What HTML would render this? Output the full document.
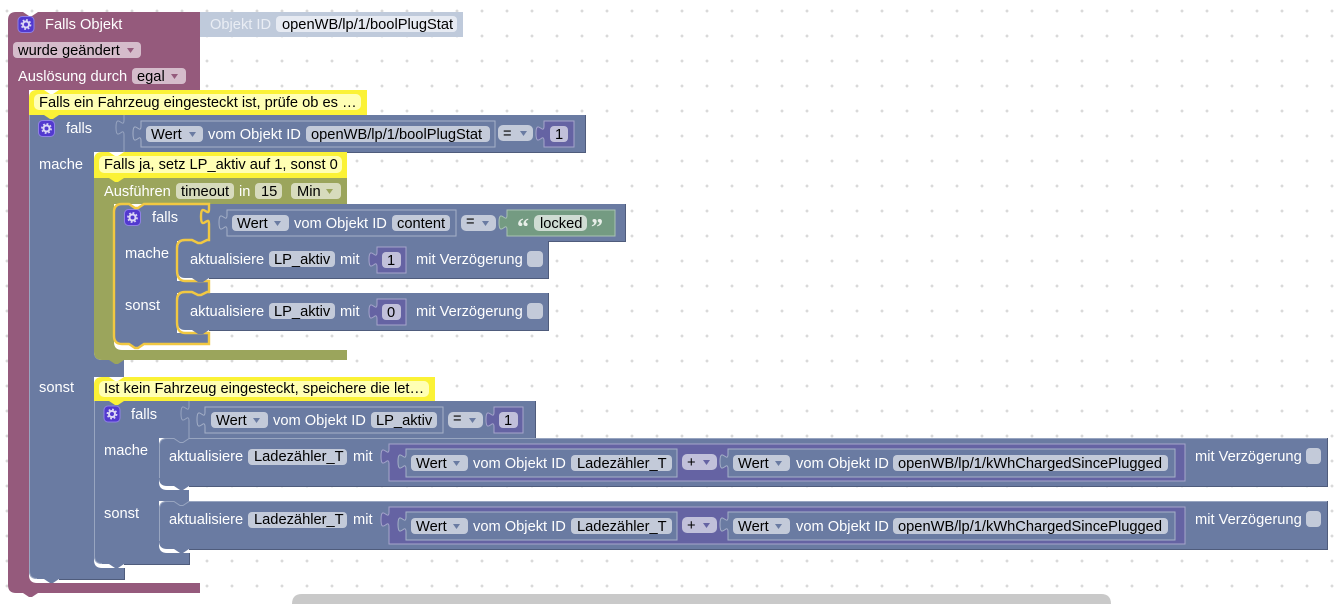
<!DOCTYPE html>
<html><head><meta charset="utf-8"><style>
html,body{margin:0;padding:0;background:#fff;width:1339px;height:604px;overflow:hidden}
svg{display:block}
text{font-family:"Liberation Sans",Arial,sans-serif;font-size:14.67px;white-space:pre}
.w{fill:#fff}.k{fill:#000}
.bl{fill:#6a7ba2}.pu{fill:#955a7c}.ol{fill:#9ba55c}.vi{fill:#6563a3}.gr{fill:#749b82}
.fb{fill:#c3cad9}.fv{fill:#c1c0da}
.e{fill:none;stroke:#98a5c0;stroke-width:1}
.d{fill:none;stroke:#4f5c7c;stroke-width:1}
.y{fill:none;stroke:#f1c842;stroke-width:2.4}
</style></head><body>
<svg width="1339" height="604" viewBox="0 0 1339 604" xmlns="http://www.w3.org/2000/svg">
<defs>
<pattern id="g" x="2" y="6" width="25" height="25" patternUnits="userSpaceOnUse">
<path d="M5 3.500v3M3.500 5h3" stroke="#ccc" stroke-width="1"/></pattern>
<g id="gear"><rect x="0" y="0" width="16" height="16" rx="4" fill="#5239cf" stroke="#8f80e6" stroke-width="1"/>
<circle cx="8" cy="8" r="3" fill="none" stroke="#dcd8f6" stroke-width="2"/><circle cx="8" cy="8" r="4.600" fill="none" stroke="#dcd8f6" stroke-width="1.600" stroke-dasharray="1.800 1.800"/></g>
<path id="ar" d="M0 0h7l-3.500 5z"/>
</defs>
<rect width="1339" height="604" fill="url(#g)"/>

<!-- Objekt ID block -->
<path d="M200 12H463V37H200V32c0-10-8 8-8-7.500s8 2.500 8-7.500z" fill="#bfcadb"/>
<text x="210" y="29" fill="#e9edf4">Objekt ID</text>
<rect x="276" y="16" width="181" height="16" rx="4" fill="#e6eaf2"/>
<text x="282" y="29" class="k">openWB/lp/1/boolPlugStat</text>

<!-- Purple hat -->
<path class="pu" d="M16 12H23l6 4h3l6-4H200V90H29V575q0 8 8 8H200V593H38l-6 4h-3l-6-4H16q-8 0-8-8V20q0-8 8-8z"/>
<use href="#gear" x="18" y="16.500"/>
<text x="45" y="29" class="w">Falls Objekt</text>
<rect x="13" y="42" width="128" height="16" rx="4" fill="#d5bccb"/>
<text x="18" y="55" class="k">wurde geändert</text>
<use href="#ar" x="127" y="48" fill="#955a7c"/>
<text x="18" y="81" class="w">Auslösung durch</text>
<rect x="132" y="68" width="54" height="16" rx="4" fill="#d5bccb"/>
<text x="137" y="81" class="k">egal</text>
<use href="#ar" x="171" y="74" fill="#955a7c"/>

<!-- Outer blue if -->
<path class="bl" d="M29 115H124V152H94V352q0 8 8 8H124V377H94V560q0 8 8 8H124V579H59l-6 4h-3l-6-4H37q-8 0-8-8z"/>
<path class="e" d="M29.500 115V571q0 7.500 7.500 7.500"/>
<path class="d" d="M59 579.500H124.500V568"/>
<rect x="124" y="115" width="461" height="37" class="bl"/>
<path class="d" d="M124 152.500H585.500V115"/>
<path class="e" d="M124 115V120c0 10-8-8-8 7.500s8-2.500 8 7.500V152"/>
<use href="#gear" x="38.500" y="120.500"/>
<text x="66" y="133" class="w">falls</text>
<text x="39" y="169" class="w">mache</text>
<text x="39" y="392" class="w">sonst</text>
<!-- Wert block 1 -->
<path d="M141 121H495V147H141V141c0-10-8 8-8-7.500s8 2.500 8-7.500z" class="bl" stroke="#a5b0c8"/>
<rect x="146" y="126" width="57" height="16" rx="4" class="fb"/>
<text x="151" y="139" class="k">Wert</text>
<use href="#ar" x="189" y="132" fill="#6a7ba2"/>
<text x="208" y="139" class="w">vom Objekt ID</text>
<rect x="306" y="126" width="184" height="16" rx="4" class="fb"/>
<text x="311" y="139" class="k">openWB/lp/1/boolPlugStat</text>
<rect x="498" y="125" width="35" height="16" rx="5" class="fb"/>
<text x="503" y="138" class="k">=</text>
<use href="#ar" x="520" y="131" fill="#6a7ba2"/>
<path d="M544 121H574V147H544V141c0-10-8 8-8-7.500s8 2.500 8-7.500z" class="vi" stroke="#a5a4cb"/>
<rect x="550" y="126" width="18" height="16" rx="4" class="fv"/>
<text x="555" y="139" class="k">1</text>

<!-- Comment 1 -->
<path d="M37 90H44l6 4h3l6-4H367V115H59l-6 4h-3l-6-4H29V98q0-8 8-8z" fill="#fbf236"/>
<rect x="34" y="94" width="327" height="16" rx="5" fill="#ffffb4"/>
<text x="39" y="107" class="k">Falls ein Fahrzeug eingesteckt ist, prüfe ob es …</text>

<!-- Olive timeout -->
<path class="ol" d="M94 178H347V204H114V342q0 8 8 8H347V360H124l-6 4h-3l-6-4H102q-8 0-8-8z"/>
<text x="104" y="196" class="w">Ausführen</text>
<rect x="176" y="183" width="58" height="16" rx="4" fill="#d7dbbd"/>
<text x="181" y="196" class="k">timeout</text>
<text x="239" y="196" class="w">in</text>
<rect x="255" y="183" width="27" height="16" rx="4" fill="#d7dbbd"/>
<text x="261" y="196" class="k">15</text>
<rect x="291" y="183" width="50" height="16" rx="4" fill="#d7dbbd"/>
<text x="297" y="196" class="k">Min</text>
<use href="#ar" x="326" y="189" fill="#9ba55c"/>

<!-- Comment 2 -->
<path d="M102 152H109l6 4h3l6-4H347V178H124l-6 4h-3l-6-4H94V160q0-8 8-8z" fill="#fbf236"/>
<rect x="99" y="156" width="243" height="17" rx="5" fill="#ffffb4"/>
<text x="104" y="169" class="k">Falls ja, setz LP_aktiv auf 1, sonst 0</text>

<!-- Inner selected if -->
<path class="bl" d="M122 204H129l6 4h3l6-4H209V241H177V281H209V293H177V333H209V344H144l-6 4h-3l-6-4H122q-8 0-8-8V212q0-8 8-8z"/>
<rect x="209" y="204" width="417" height="37" class="bl"/>
<path class="d" d="M549 241.500H625.500V204"/>
<use href="#gear" x="124.500" y="209.500"/>
<text x="152" y="222" class="w">falls</text>
<text x="125" y="258" class="w">mache</text>
<text x="125" y="310" class="w">sonst</text>
<path d="M227 210H456V236H227V230c0-10-8 8-8-7.500s8 2.500 8-7.500z" class="bl" stroke="#a5b0c8"/>
<rect x="232" y="215" width="57" height="16" rx="4" class="fb"/>
<text x="237" y="228" class="k">Wert</text>
<use href="#ar" x="274" y="221" fill="#6a7ba2"/>
<text x="294" y="228" class="w">vom Objekt ID</text>
<rect x="392" y="215" width="58" height="16" rx="4" class="fb"/>
<text x="397" y="228" class="k">content</text>
<rect x="461" y="215" width="35" height="16" rx="5" class="fb"/>
<text x="466" y="226" class="k">=</text>
<use href="#ar" x="482" y="221" fill="#6a7ba2"/>
<path d="M507 210H615V236H507V230c0-10-8 8-8-7.500s8 2.500 8-7.500z" class="gr" stroke="#a9c3b3"/>
<text x="517" y="235" style="font-size:24px;font-family:'Liberation Serif',serif;font-weight:bold" fill="#e8efe9">“</text>
<rect x="534" y="215" width="53" height="16" rx="5" fill="#cfdcd3"/>
<text x="540" y="228" class="k">locked</text>
<text x="591" y="235" style="font-size:24px;font-family:'Liberation Serif',serif;font-weight:bold" fill="#e8efe9">”</text>

<!-- stmt LP_aktiv 1 -->
<path class="bl" d="M185 241H548V278H209V278H185q-7 0-7-7V249q0-8 7-8z"/>
<path class="d" d="M209 278.500H548.500V241"/>
<text x="190" y="264" class="w">aktualisiere</text>
<rect x="269" y="251" width="66" height="16" rx="4" class="fb"/>
<text x="274" y="264" class="k">LP_aktiv</text>
<text x="340" y="264" class="w">mit</text>
<path d="M377 247H406V273H377V267c0-10-8 8-8-7.500s8 2.500 8-7.500z" class="vi" stroke="#a5a4cb"/>
<rect x="382" y="252" width="19" height="16" rx="4" class="fv"/>
<text x="387" y="265" class="k">1</text>
<text x="416" y="264" class="w">mit Verzögerung</text>
<rect x="527" y="251" width="16" height="16" rx="4" class="fb"/>

<!-- stmt LP_aktiv 2 -->
<path class="bl" d="M185 293H548V330H185q-7 0-7-7V301q0-8 7-8z"/>
<path class="d" d="M209 330.500H548.500V293"/>
<text x="190" y="316" class="w">aktualisiere</text>
<rect x="269" y="303" width="66" height="16" rx="4" class="fb"/>
<text x="274" y="316" class="k">LP_aktiv</text>
<text x="340" y="316" class="w">mit</text>
<path d="M377 299H406V325H377V319c0-10-8 8-8-7.500s8 2.500 8-7.500z" class="vi" stroke="#a5a4cb"/>
<rect x="382" y="304" width="19" height="16" rx="4" class="fv"/>
<text x="387" y="317" class="k">0</text>
<text x="416" y="316" class="w">mit Verzögerung</text>
<rect x="527" y="303" width="16" height="16" rx="4" class="fb"/>

<!-- Selection outline -->
<path class="y" d="M122 344q-8 0-8-8V212q0-8 8-8H129l6 4h3l6-4H209V209c0 10-8-8-8 7.500s8-2.500 8 7.500V240H207l-6 3h-3l-6-3H185q-8 0-8 8V270q0 11 8 11H209V292H207l-6 3h-3l-6-3H185q-8 0-8 8V322q0 11 8 11H209V344H144l-6 4h-3l-6-4z"/>
<path class="bl" d="M192 278h17l-6 4h-5z"/>
<path class="bl" d="M192 330h17l-6 4h-5z"/>

<!-- Second if -->
<path class="bl" d="M94 401H189V438H159V482q0 8 8 8H189V501H159V545q0 8 8 8H189V564H124l-6 4h-3l-6-4H102q-8 0-8-8z"/>
<path class="e" d="M94.500 401V556q0 7.500 7.500 7.500"/>
<path class="d" d="M124 564.500H189.500V553"/>
<rect x="189" y="401" width="346" height="37" class="bl"/>
<path class="d" d="M189 438.500H535.500V401"/>
<path class="e" d="M189 401V406c0 10-8-8-8 7.500s8-2.500 8 7.500V438"/>
<use href="#gear" x="104" y="406"/>
<text x="131" y="419" class="w">falls</text>
<text x="104" y="455" class="w">mache</text>
<text x="104" y="518" class="w">sonst</text>
<path d="M205 407H443V433H205V427c0-10-8 8-8-7.500s8 2.500 8-7.500z" class="bl" stroke="#a5b0c8"/>
<rect x="211" y="412" width="57" height="16" rx="4" class="fb"/>
<text x="216" y="425" class="k">Wert</text>
<use href="#ar" x="253" y="418" fill="#6a7ba2"/>
<text x="273" y="425" class="w">vom Objekt ID</text>
<rect x="371" y="412" width="66" height="16" rx="4" class="fb"/>
<text x="376" y="425" class="k">LP_aktiv</text>
<rect x="448" y="412" width="35" height="16" rx="5" class="fb"/>
<text x="453" y="423" class="k">=</text>
<use href="#ar" x="469" y="418" fill="#6a7ba2"/>
<path d="M494 407H523V433H494V427c0-10-8 8-8-7.500s8 2.500 8-7.500z" class="vi" stroke="#a5a4cb"/>
<rect x="499" y="412" width="19" height="16" rx="4" class="fv"/>
<text x="504" y="425" class="k">1</text>

<!-- Comment 3 -->
<path d="M102 377H109l6 4h3l6-4H435V401H124l-6 4h-3l-6-4H94V385q0-8 8-8z" fill="#fbf236"/>
<rect x="99" y="381" width="330" height="16" rx="5" fill="#ffffb4"/>
<text x="104" y="393" class="k">Ist kein Fahrzeug eingesteckt, speichere die let…</text>

<!-- stmt Ladezähler 1 -->
<path class="bl" d="M167 438H1327V486H189l-6 4h-3l-6-4H167q-8 0-8-8V446q0-8 8-8z"/>
<path class="d" d="M189 486.500H1327.500V438"/>
<path class="e" d="M159.500 478V446q0-7.500 7.500-7.500H174l6 4h3l6-4H1327"/>
<text x="169" y="461" class="w">aktualisiere</text>
<rect x="248" y="449" width="99" height="16" rx="4" class="fb"/>
<text x="254" y="461" class="k">Ladezähler_T</text>
<text x="353" y="461" class="w">mit</text>
<path d="M389 444H1185V481H389V464c0-10-8 8-8-7.500s8 2.500 8-7.500z" class="vi" stroke="#a5a4cb"/>
<path d="M406 449H677V477H406V469c0-10-8 8-8-7.500s8 2.500 8-7.500z" class="bl" stroke="#a5b0c8"/>
<rect x="411" y="455" width="57" height="16" rx="4" class="fb"/>
<text x="416" y="468" class="k">Wert</text>
<use href="#ar" x="453" y="461" fill="#6a7ba2"/>
<text x="473" y="468" class="w">vom Objekt ID</text>
<rect x="571" y="455" width="101" height="16" rx="4" class="fb"/>
<text x="577" y="468" class="k">Ladezähler_T</text>
<rect x="682" y="454" width="35" height="16" rx="5" class="fv"/>
<text x="687" y="467" class="k">+</text>
<use href="#ar" x="703" y="460" fill="#6563a3"/>
<path d="M728 449H1175V477H728V469c0-10-8 8-8-7.500s8 2.500 8-7.500z" class="bl" stroke="#a5b0c8"/>
<rect x="733" y="455" width="57" height="16" rx="4" class="fb"/>
<text x="738" y="468" class="k">Wert</text>
<use href="#ar" x="775" y="461" fill="#6a7ba2"/>
<text x="796" y="468" class="w">vom Objekt ID</text>
<rect x="893" y="455" width="275" height="16" rx="4" class="fb"/>
<text x="898" y="468" class="k">openWB/lp/1/kWhChargedSincePlugged</text>
<text x="1195" y="461" class="w">mit Verzögerung</text>
<rect x="1306" y="448" width="15" height="16" rx="4" class="fb"/>

<!-- stmt Ladezähler 2 -->
<path class="bl" d="M167 501H1327V549H189l-6 4h-3l-6-4H167q-8 0-8-8V509q0-8 8-8z"/>
<path class="d" d="M189 549.500H1327.500V501"/>
<path class="e" d="M159.500 541V509q0-7.500 7.500-7.500H174l6 4h3l6-4H1327"/>
<text x="169" y="524" class="w">aktualisiere</text>
<rect x="248" y="512" width="99" height="16" rx="4" class="fb"/>
<text x="254" y="524" class="k">Ladezähler_T</text>
<text x="353" y="524" class="w">mit</text>
<path d="M389 507H1185V544H389V527c0-10-8 8-8-7.500s8 2.500 8-7.500z" class="vi" stroke="#a5a4cb"/>
<path d="M406 512H677V540H406V532c0-10-8 8-8-7.500s8 2.500 8-7.500z" class="bl" stroke="#a5b0c8"/>
<rect x="411" y="518" width="57" height="16" rx="4" class="fb"/>
<text x="416" y="531" class="k">Wert</text>
<use href="#ar" x="453" y="524" fill="#6a7ba2"/>
<text x="473" y="531" class="w">vom Objekt ID</text>
<rect x="571" y="518" width="101" height="16" rx="4" class="fb"/>
<text x="577" y="531" class="k">Ladezähler_T</text>
<rect x="682" y="517" width="35" height="16" rx="5" class="fv"/>
<text x="687" y="530" class="k">+</text>
<use href="#ar" x="703" y="523" fill="#6563a3"/>
<path d="M728 512H1175V540H728V532c0-10-8 8-8-7.500s8 2.500 8-7.500z" class="bl" stroke="#a5b0c8"/>
<rect x="733" y="518" width="57" height="16" rx="4" class="fb"/>
<text x="738" y="531" class="k">Wert</text>
<use href="#ar" x="775" y="524" fill="#6a7ba2"/>
<text x="796" y="531" class="w">vom Objekt ID</text>
<rect x="893" y="518" width="275" height="16" rx="4" class="fb"/>
<text x="898" y="531" class="k">openWB/lp/1/kWhChargedSincePlugged</text>
<text x="1195" y="524" class="w">mit Verzögerung</text>
<rect x="1306" y="511" width="15" height="16" rx="4" class="fb"/>

<!-- Scrollbar -->
<path d="M292 604q0-10 10-10H1101q10 0 10 10z" fill="#c9c9c9"/>
</svg>
</body></html>
